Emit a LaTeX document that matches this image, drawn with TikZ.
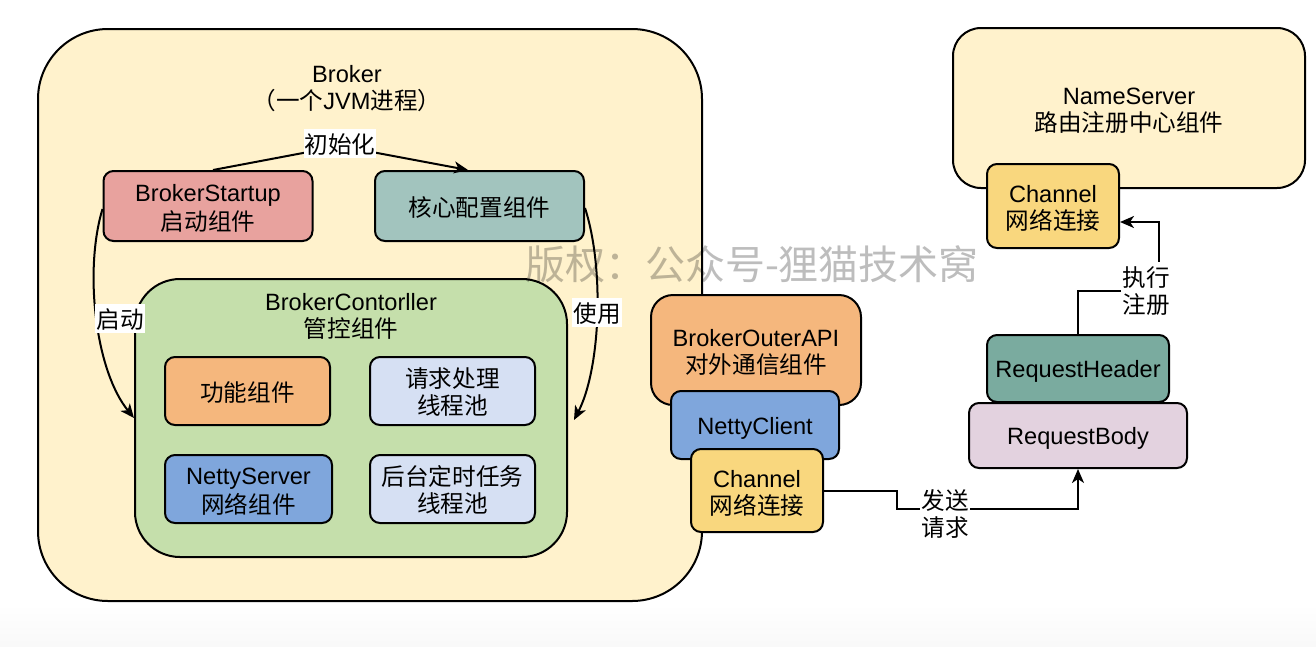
\documentclass[tikz,border=0pt]{standalone}
\usepackage{fontspec}
\setmainfont{Liberation Sans}
\newfontfamily\cjkfont{Noto Sans CJK SC}
\usetikzlibrary{arrows.meta,calc}

\definecolor{brokerbg}{HTML}{FFF2CC}
\definecolor{startupc}{HTML}{E8A29E}
\definecolor{configc}{HTML}{A2C4BE}
\definecolor{ctrlc}{HTML}{C5DFAB}
\definecolor{orangec}{HTML}{F5B77D}
\definecolor{poolc}{HTML}{D6E0F3}
\definecolor{nettyc}{HTML}{7FA6DC}
\definecolor{channelc}{HTML}{F9D77E}
\definecolor{headerc}{HTML}{7AAB9F}
\definecolor{bodyc}{HTML}{E3D2DF}

\newcommand\linestrut{\rule[-3.5pt]{0pt}{27pt}}
\newcommand\zh[1]{{\cjkfont #1}}
\newcommand\twoline[2]{\linestrut#1\\#2\linestrut}

\tikzset{
  txt/.style={align=center,inner sep=0pt,font=\fontsize{23.6}{27}\selectfont,
    execute at begin node=\linestrut,execute at end node=\linestrut},
  box/.style={txt,draw=black,line width=2pt,rounded corners=10pt},
  lbl/.style={txt,fill=white,inner sep=1pt},
  conn/.style={line width=2pt},
  arr/.style={conn,-{Stealth[length=14pt,width=12pt,inset=4pt]}}
}

\begin{document}
\begin{tikzpicture}[x=1pt,y=-1pt]
            \useasboundingbox (0,0) rectangle (1316,646);
            \fill[white] (0,0) rectangle (1316,646);
            \shade[top color=white,bottom color=gray!5] (0,604) rectangle (1316,646);

            \node[box,fill=brokerbg,rounded corners=70pt,minimum width=664pt,minimum height=572pt] (broker) at (370,315) {};
            \node[txt] (brokertitle) at (347,86) {\twoline{Broker}{\zh{（一个}JVM\zh{进程）}}};

            \node[box,fill=startupc,minimum width=209pt,minimum height=70pt] (startup) at (208,206) {\twoline{BrokerStartup}{\zh{启动组件}}};
            \node[box,fill=configc,minimum width=209pt,minimum height=70pt] (config) at (479.5,206) {\zh{核心配置组件}};

            \node[box,fill=ctrlc,rounded corners=45pt,minimum width=432pt,minimum height=278pt] (ctrl) at (351,418) {};
            \node[txt] (ctrltitle) at (351,314) {\twoline{BrokerContorller}{\zh{管控组件}}};
            \node[box,fill=orangec,minimum width=165pt,minimum height=68pt] (func) at (247.5,391) {\zh{功能组件}};
            \node[box,fill=poolc,minimum width=165pt,minimum height=68pt] (reqpool) at (452.5,391) {\twoline{\zh{请求处理}}{\zh{线程池}}};
            \node[box,fill=nettyc,minimum width=167pt,minimum height=68pt] (nettyserver) at (248.5,489) {\twoline{NettyServer}{\zh{网络组件}}};
            \node[box,fill=poolc,minimum width=165pt,minimum height=68pt] (taskpool) at (452.5,489) {\twoline{\zh{后台定时任务}}{\zh{线程池}}};

            \node[box,fill=orangec,rounded corners=22pt,minimum width=210pt,minimum height=110pt] (outerapi) at (756,350) {\twoline{BrokerOuterAPI}{\zh{对外通信组件}}};
            \node[box,fill=nettyc,minimum width=168pt,minimum height=68pt] (nettyclient) at (755,425) {NettyClient};
            \node[box,fill=channelc,minimum width=132pt,minimum height=83pt] (channelA) at (757,490.5) {\twoline{Channel}{\zh{网络连接}}};

            \node[box,fill=brokerbg,rounded corners=28pt,minimum width=352pt,minimum height=160pt] (nameserver) at (1129,108) {\twoline{NameServer}{\zh{路由注册中心组件}}};
            \node[box,fill=channelc,minimum width=132pt,minimum height=84pt] (channelB) at (1053,206) {\twoline{Channel}{\zh{网络连接}}};

            \node[box,fill=headerc,minimum width=182pt,minimum height=67pt] (requestheader) at (1078,368.5) {RequestHeader};
            \node[box,fill=bodyc,minimum width=218pt,minimum height=65pt] (requestbody) at (1078,435.5) {RequestBody};

            \coordinate (initbend) at (340,146);
            \draw[arr] ($(startup.north)+(5,0)$) -- (initbend) -- ($(config.north)+(-11.5,0)$);
            \node[lbl] (initlbl) at (340,143) {\zh{初始化}};

            \draw[arr] ($(startup.west)+(0,3)$) .. controls (84,270) and (95,370) .. (ctrl.west);
            \node[lbl] (startlbl) at (120,318.5) {\zh{启动}};

            \draw[arr] ($(config.east)+(0,2)$) .. controls (605,270) and (600,370) .. ($(ctrl.east)+(6,2)$);
            \node[lbl] (uselbl) at (597,312.5) {\zh{使用}};

            \coordinate (sendbend) at (897,509);
            \draw[arr] (channelA.east) -| (sendbend) -| (requestbody.south);
            \node[lbl] (sendlbl) at (945,513) {\twoline{\zh{发送}}{\zh{请求}}};

            \coordinate (regbend) at (1159,291);
            \draw[arr] (requestheader.north) |- (regbend) |- ($(channelB.east)+(0,16)$);
            \node[lbl] (reglbl) at (1146,290) {\twoline{\zh{执行}}{\zh{注册}}};

            \node[text=black,opacity=0.26,inner sep=0pt,font=\cjkfont\fontsize{40}{40}\selectfont] (mark) at (752,264) {版权：公众号-狸猫技术窝};
\end{tikzpicture}
\end{document}
